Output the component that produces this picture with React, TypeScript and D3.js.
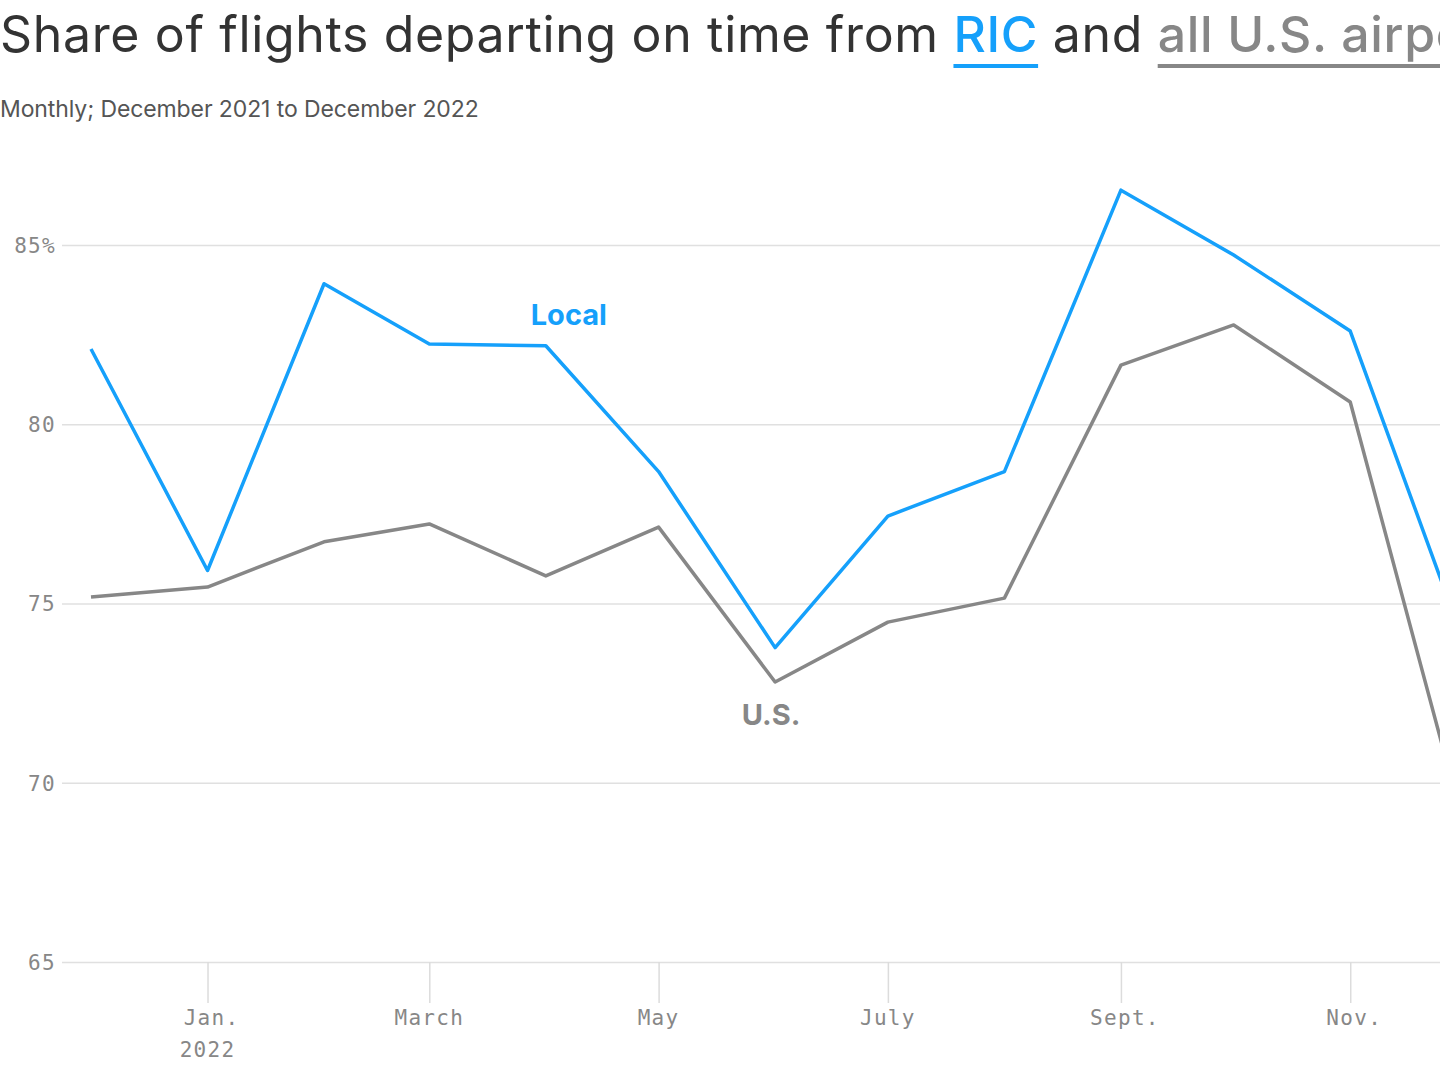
// @ts-nocheck
import React from "react";
import * as d3 from "d3";

const months = [
  "2021-12-01", "2022-01-01", "2022-02-01", "2022-03-01", "2022-04-01",
  "2022-05-01", "2022-06-01", "2022-07-01", "2022-08-01", "2022-09-01",
  "2022-10-01", "2022-11-01", "2022-12-01",
];
const localValues = [82.1, 75.92, 83.92, 82.24, 82.19, 78.68, 73.77, 77.44, 78.68, 86.53, 84.72, 82.6, 73.98];
const usValues = [75.18, 75.46, 76.72, 77.22, 75.77, 77.13, 72.81, 74.48, 75.15, 81.65, 82.77, 80.62, 68.88];
const yTicks = [65, 70, 75, 80, 85];
const xTicks = [
  { date: "2022-01-01", label: "Jan.", sub: "2022" },
  { date: "2022-03-01", label: "March" },
  { date: "2022-05-01", label: "May" },
  { date: "2022-07-01", label: "July" },
  { date: "2022-09-01", label: "Sept." },
  { date: "2022-11-01", label: "Nov." },
];

const BLUE = "#15a0fb";
const GRAY = "#878787";
const SANS = "Inter, 'Noto Sans', sans-serif";
const MONO = "'DejaVu Sans Mono', 'Liberation Mono', monospace";

const width = 1440;
const height = 1080;

const OnTimeChart = () => {
  const svgRef = React.useRef(null);

  React.useEffect(() => {
    const parse = d3.timeParse("%Y-%m-%d");
    const local = months.map((m, i) => ({ date: parse(m), value: localValues[i] }));
    const us = months.map((m, i) => ({ date: parse(m), value: usValues[i] }));

    const xScale = d3.scaleTime()
      .domain([parse(months[0]), parse(months[months.length - 1])])
      .range([91, 1463]);
    const yScale = d3.scaleLinear()
      .domain([65, 85])
      .range([962, 245]);

    const svgEl = d3.select(svgRef.current);
    svgEl.selectAll("*").remove();

    // Title, built piece by piece so the key words can be underlined
    const titleParts = [
      { text: "Share of flights departing on time from ", color: "#333", weight: 400 },
      { text: "RIC", color: BLUE, weight: 500, underline: true },
      { text: " and ", color: "#333", weight: 400 },
      { text: "all U.S. airports", color: GRAY, weight: 500, underline: true },
    ];
    let cursor = 0;
    titleParts.forEach((p) => {
      const t = svgEl.append("text")
        .attr("x", cursor)
        .attr("y", 52)
        .attr("font-family", SANS)
        .attr("font-size", 50)
        .attr("letter-spacing", 0.65)
        .attr("font-weight", p.weight)
        .attr("fill", p.color)
        .style("white-space", "pre")
        .text(p.text);
      const w = t.node().getComputedTextLength();
      if (p.underline) {
        svgEl.append("rect")
          .attr("x", cursor)
          .attr("y", 64)
          .attr("width", w)
          .attr("height", 4)
          .attr("fill", p.color);
      }
      cursor += w;
    });

    svgEl.append("text")
      .attr("x", 0)
      .attr("y", 117)
      .attr("font-family", SANS)
      .attr("font-size", 23)
      .attr("letter-spacing", -0.1)
      .attr("fill", "#555")
      .text("Monthly; December 2021 to December 2022");

    // Y grid lines with labels
    const yAxis = d3.axisLeft(yScale)
      .tickValues(yTicks)
      .tickSize(-(width - 62))
      .tickPadding(6)
      .tickFormat((d) => (d === 85 ? `${d}%` : `${d}`));
    const yAxisGroup = svgEl.append("g")
      .attr("transform", "translate(62,0)")
      .call(yAxis);
    yAxisGroup.select(".domain").remove();
    yAxisGroup.selectAll("line").attr("stroke", "#e0e0e0").attr("stroke-width", 1.5);
    yAxisGroup.selectAll("text")
      .attr("fill", GRAY)
      .attr("font-family", MONO)
      .attr("font-size", 21)
      .attr("letter-spacing", 1.3)
      .attr("x", -6)
      .attr("dy", "0.35em");

    // X ticks
    const xAxis = d3.axisBottom(xScale)
      .tickValues(xTicks.map((t) => parse(t.date)))
      .tickSize(41)
      .tickPadding(0)
      .tickFormat(() => "");
    const xAxisGroup = svgEl.append("g")
      .attr("transform", "translate(0,962)")
      .call(xAxis);
    xAxisGroup.select(".domain").remove();
    xAxisGroup.selectAll("line").attr("stroke", "#dcdcdc").attr("stroke-width", 1.5);

    const xLabels = svgEl.append("g")
      .attr("font-family", MONO)
      .attr("font-size", 21)
      .attr("letter-spacing", 1.3)
      .attr("fill", GRAY)
      .attr("text-anchor", "middle");
    xTicks.forEach((t) => {
      const x = xScale(parse(t.date));
      xLabels.append("text").attr("x", x + (t.label.endsWith(".") ? 4 : 0)).attr("y", 1025).text(t.label);
      if (t.sub) xLabels.append("text").attr("x", x).attr("y", 1057).text(t.sub);
    });

    // Lines
    const line = d3.line()
      .x((d) => xScale(d.date))
      .y((d) => yScale(d.value));
    [
      { items: us, color: GRAY },
      { items: local, color: BLUE },
    ].forEach((s) => {
      svgEl.append("path")
        .attr("fill", "none")
        .attr("stroke", s.color)
        .attr("stroke-width", 3.5)
        .attr("stroke-linejoin", "round")
        .attr("d", line(s.items));
    });

    // Direct labels
    svgEl.append("text")
      .attr("x", xScale(parse("2022-04-01")) + 23)
      .attr("y", 325)
      .attr("text-anchor", "middle")
      .attr("font-family", SANS)
      .attr("font-weight", 700)
      .attr("font-size", 29)
      .attr("fill", BLUE)
      .text("Local");
    svgEl.append("text")
      .attr("x", xScale(parse("2022-06-01")) - 4)
      .attr("y", 725)
      .attr("text-anchor", "middle")
      .attr("font-family", SANS)
      .attr("font-weight", 700)
      .attr("font-size", 29)
      .attr("fill", GRAY)
      .text("U.S.");
  }, []);

  return (
    <svg
      ref={svgRef}
      width={width}
      height={height}
      style={{ position: "absolute", left: 0, top: 0, background: "#fff" }}
    />
  );
};

export default function App() {
  return <OnTimeChart />;
}
